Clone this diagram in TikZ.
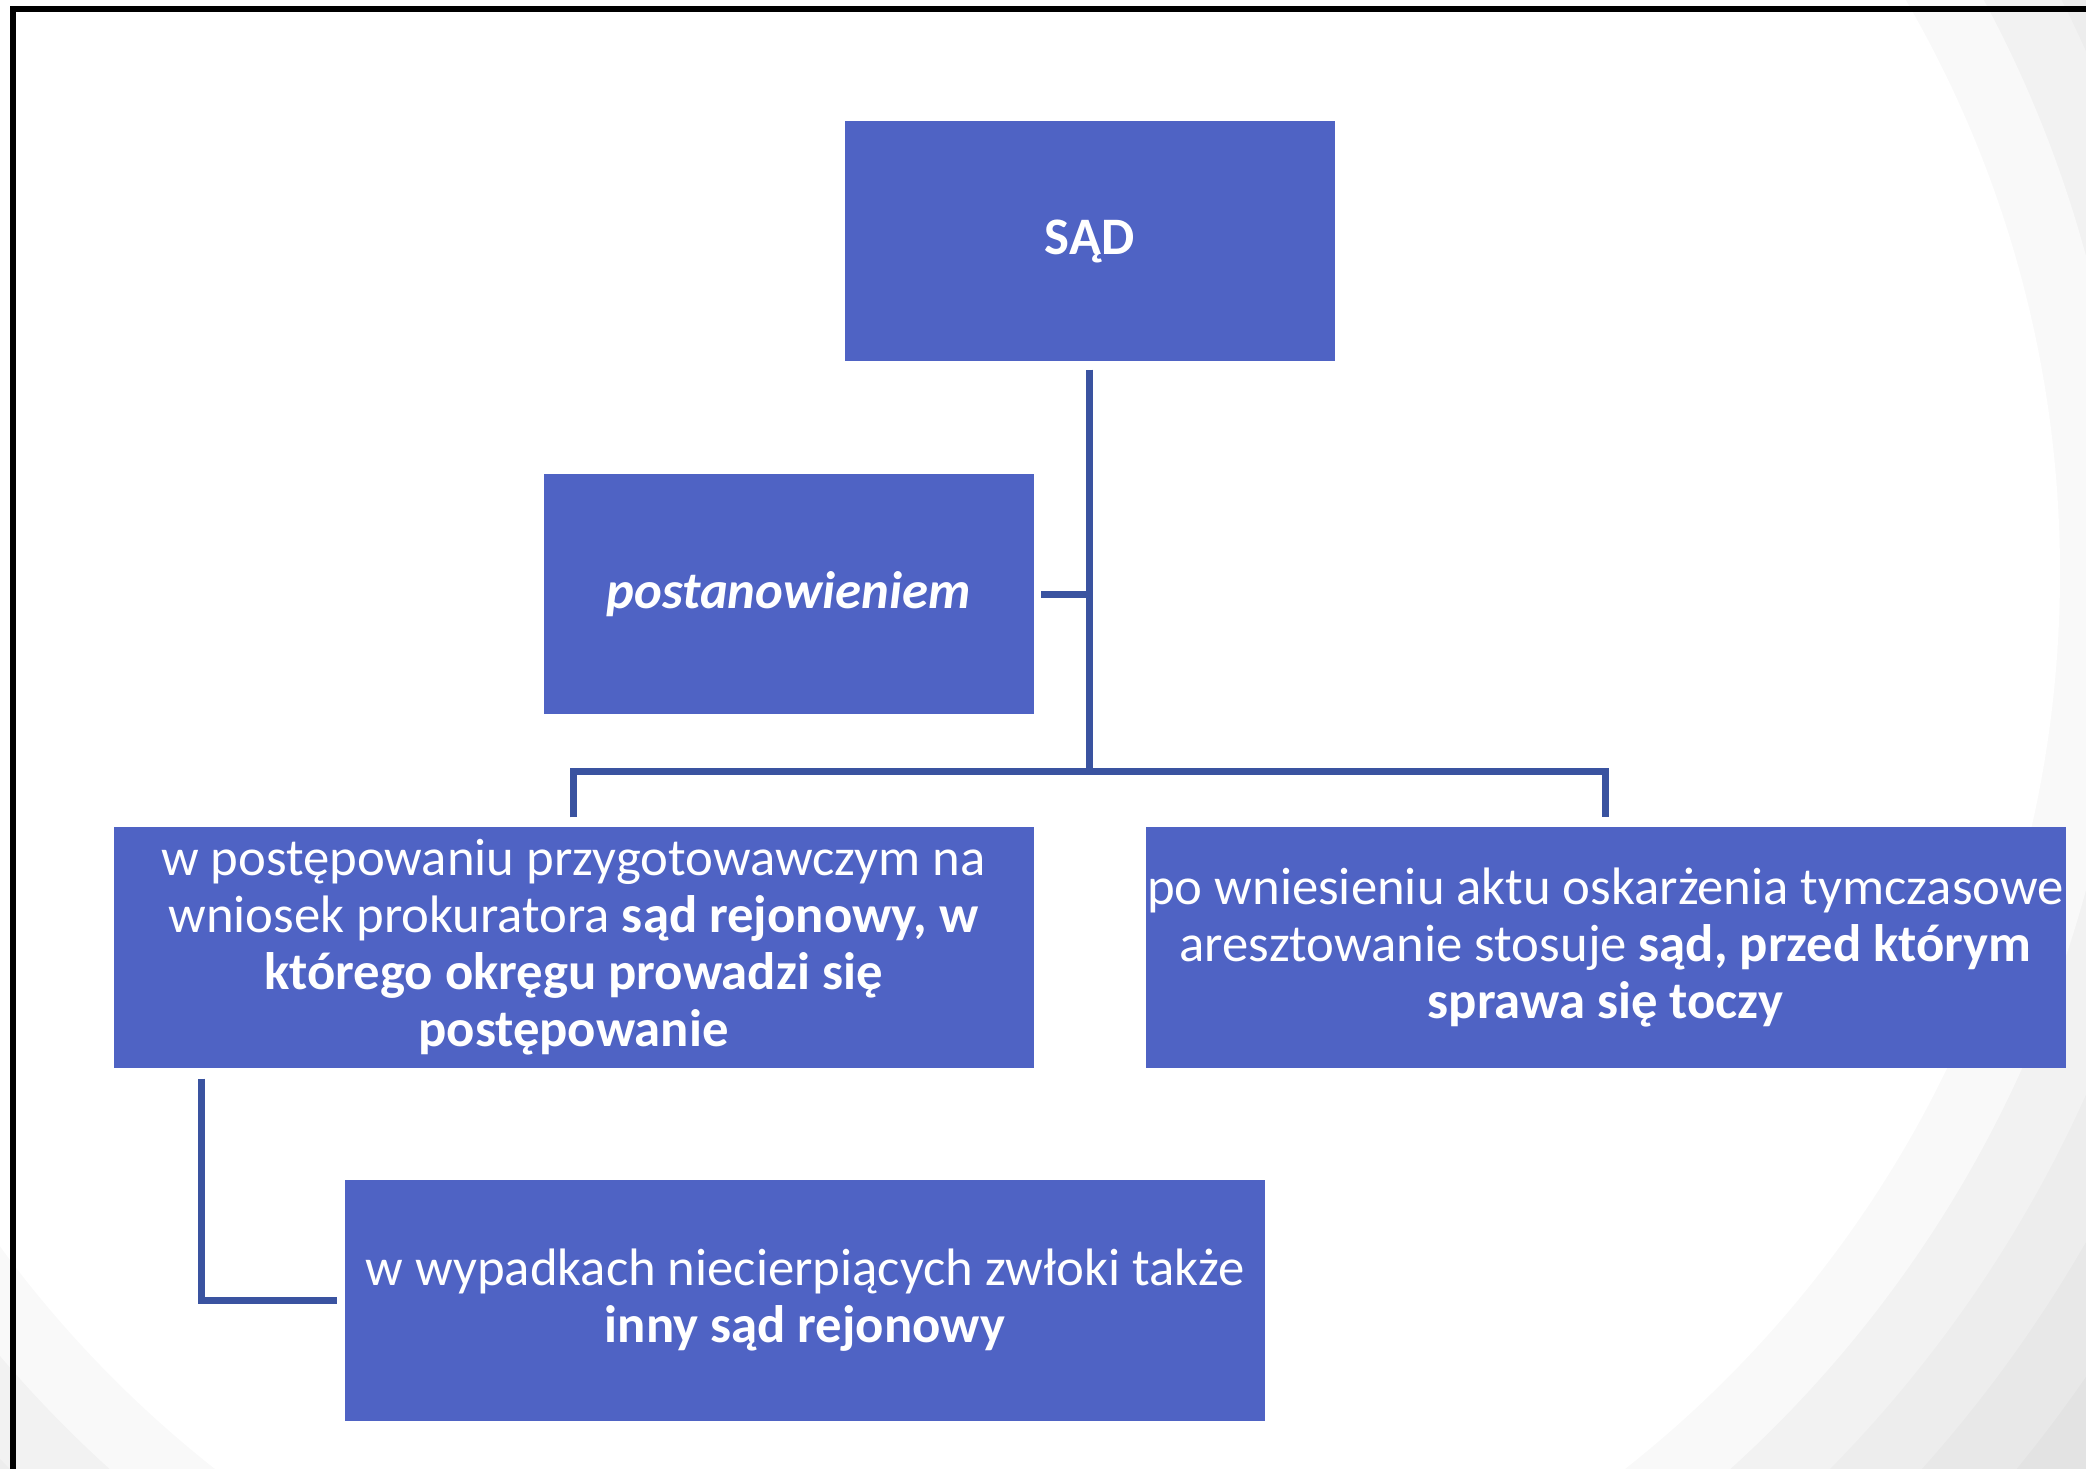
\documentclass[tikz,border=0pt]{standalone}
\usepackage{fontspec}
\setmainfont{Carlito}
\definecolor{boxblue}{RGB}{79,99,196}
\definecolor{linkblue}{RGB}{58,83,160}
\tikzset{box/.style={rectangle,fill=boxblue,text=white,align=center,inner xsep=0pt,inner ysep=2pt,
    minimum width=9.2cm,minimum height=2.41cm,font=\fontsize{15}{16.2}\selectfont},
  smallbox/.style={box,minimum width=4.9cm,minimum height=2.4cm}}

\begin{document}
\begin{tikzpicture}[link/.style={draw=linkblue,line width=0.07cm}]
    \useasboundingbox (0,0) rectangle (20.86,-14.69);
    \begin{scope}
        \clip (0,0) rectangle (20.86,-14.69);
        \fill[black!11] (0,0) rectangle (20.86,-14.69);
        \foreach \rad/\lvl in {14.16/9,13.44/7,12.77/5,12.08/2.5,11.40/0}
            \fill[black!\lvl] (9.2,-5.73) circle (\rad);
        \draw[line width=0.06cm] (0.13,-0.09) rectangle (22,-16);
    \end{scope}

    \node[smallbox,font=\fontsize{15}{16.2}\selectfont\bfseries] (sad) at (10.895,-2.41) {SĄD};
    \node[smallbox,font=\fontsize{15}{16.2}\selectfont\bfseries\itshape] (post) at (7.885,-5.94) {postanowieniem};
    \node[box] (prep) at (5.735,-9.475) {w postępowaniu przygotowawczym na\\
        wniosek prokuratora \textbf{sąd rejonowy, w}\\
        \textbf{którego okręgu prowadzi się}\\
        \textbf{postępowanie}};
    \node[box] (akt) at (16.055,-9.475) {po wniesieniu aktu oskarżenia tymczasowe\\
        aresztowanie stosuje \textbf{sąd, przed którym}\\
        \textbf{sprawa się toczy}};
    \node[box] (inny) at (8.05,-13.005) {w wypadkach niecierpiących zwłoki także\\
        \textbf{inny sąd rejonowy}};

    \coordinate (hub) at (10.895,-7.71);
    \draw[link] ([yshift=-0.08cm]sad.south) -- (hub);
    \draw[link] ([xshift=0.07cm]post.east) -- (post.east -| hub);
    \draw[link] ([yshift=0.09cm]prep.north) |- (hub) -| ([yshift=0.09cm]akt.north);
    \draw[link] ([xshift=0.89cm,yshift=-0.1cm]prep.south west) |- ([xshift=-0.07cm]inny.west);
\end{tikzpicture}
\end{document}
